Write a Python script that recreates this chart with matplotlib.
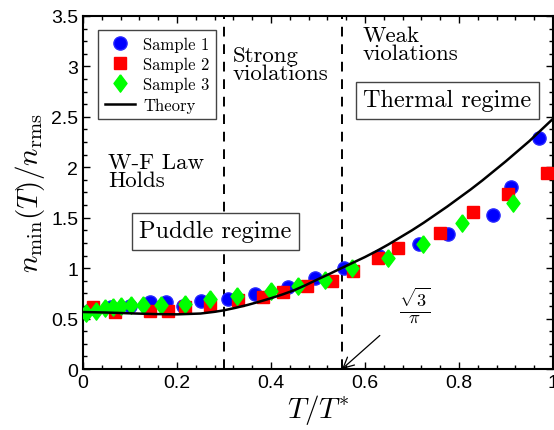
import numpy
import matplotlib
matplotlib.use("Agg")

# import aliases
import matplotlib.pyplot as plt
from matplotlib.ticker import MultipleLocator

plt.rcParams['mathtext.fontset'] = 'cm'
plt.rcParams['axes.unicode_minus'] = False

# data
s1_x = [0.02, 0.06, 0.10, 0.142, 0.177, 0.213, 0.251, 0.309, 0.366, 0.437,
        0.494, 0.555, 0.63, 0.715, 0.776, 0.873, 0.91, 0.97]
s1_y = [0.60, 0.61, 0.62, 0.66, 0.66, 0.62, 0.67, 0.69, 0.74, 0.81,
        0.90, 1.00, 1.12, 1.24, 1.34, 1.53, 1.80, 2.29]

s2_x = [0.021, 0.068, 0.142, 0.18, 0.217, 0.27, 0.33, 0.383, 0.426, 0.476,
        0.53, 0.575, 0.628, 0.67, 0.76, 0.83, 0.904, 0.987]
s2_y = [0.61, 0.57, 0.58, 0.58, 0.61, 0.63, 0.68, 0.71, 0.76, 0.82,
        0.87, 0.97, 1.10, 1.20, 1.35, 1.56, 1.74, 1.94]

s3_x = [0.007, 0.028, 0.047, 0.064, 0.081, 0.102, 0.128, 0.166, 0.217, 0.27,
        0.327, 0.40, 0.458, 0.515, 0.572, 0.65, 0.724, 0.806, 0.915]
s3_y = [0.56, 0.58, 0.60, 0.61, 0.62, 0.63, 0.63, 0.63, 0.64, 0.69,
        0.72, 0.77, 0.82, 0.88, 1.00, 1.10, 1.24, 1.45, 1.65]

theory_x = [0.0, 0.05, 0.1, 0.15, 0.2, 0.25, 0.28, 0.3, 0.325, 0.35, 0.375,
            0.4, 0.425, 0.45, 0.475, 0.5, 0.525, 0.55, 0.575, 0.6, 0.625,
            0.65, 0.675, 0.7, 0.725, 0.75, 0.775, 0.8, 0.825, 0.85, 0.875,
            0.9, 0.925, 0.95, 0.975, 1.0]
theory_y = [0.565, 0.56, 0.552, 0.545, 0.542, 0.55, 0.567, 0.582, 0.607, 0.635,
            0.667, 0.702, 0.74, 0.782, 0.834, 0.89, 0.944, 1.00, 1.055, 1.11,
            1.17, 1.235, 1.305, 1.375, 1.45, 1.53, 1.61, 1.695, 1.78, 1.87,
            1.965, 2.06, 2.16, 2.26, 2.37, 2.48]

puddle_edge = 0.3
thermal_edge = 0.5513

diamond = [(0, 1), (0.75, 0), (0, -1), (-0.75, 0), (0, 1)]

fig = plt.figure(figsize=(5.54, 4.31), dpi=100)
ax = fig.add_axes([0.1498, 0.1415, 0.8482, 0.8191])

ax.plot(s1_x, s1_y, linestyle='none', marker='o', ms=9.5, color=(0, 0, 1),
        mec=(0.15, 0.15, 1), label='Sample 1', zorder=3)
ax.plot(s2_x, s2_y, linestyle='none', marker='s', ms=8, color=(1, 0, 0),
        mec=(1, 0, 0), label='Sample 2', zorder=4)
ax.plot(s3_x, s3_y, linestyle='none', marker=diamond, ms=12.5, color=(0, 1, 0),
        mec=(0, 1, 0), label='Sample 3', zorder=5)
ax.plot(theory_x, theory_y, color='black', lw=1.8, label='Theory', zorder=6)

ax.axvline(puddle_edge, color='black', ls=(0, (5, 4)), lw=1.4)
ax.axvline(thermal_edge, color='black', ls=(0, (5, 4)), lw=1.4)

ax.set_xlim(0, 1)
ax.set_ylim(0, 3.5)
ax.xaxis.set_minor_locator(MultipleLocator(0.04))
ax.yaxis.set_minor_locator(MultipleLocator(0.125))
ax.set_xticks([0, 0.2, 0.4, 0.6, 0.8, 1.0])
ax.set_xticklabels(['0', '0.2', '0.4', '0.6', '0.8', '1'])
ax.set_yticks([0, 0.5, 1, 1.5, 2, 2.5, 3, 3.5])
ax.set_yticklabels(['0', '0.5', '1', '1.5', '2', '2.5', '3', '3.5'])
ax.tick_params(which='both', direction='in', top=True, right=True,
               labelsize=14, width=1.0)
ax.tick_params(which='major', length=5)
ax.tick_params(which='minor', length=3)
for lab in ax.get_xticklabels() + ax.get_yticklabels():
    lab.set_family('Liberation Sans')
for sp in ax.spines.values():
    sp.set_linewidth(1.5)

ax.set_xlabel(r'$T/T^{*}$', fontsize=21, labelpad=1)
ax.set_ylabel(r'$n_{\min}(T)/n_{\rm rms}$', fontsize=21, labelpad=3)

serif = dict(family='cmr10', color='black')
ax.text(0.318, 3.02, 'Strong\nviolations', fontsize=16.5, va='center',
        linespacing=0.9, **serif)
ax.text(0.595, 3.22, 'Weak\nviolations', fontsize=16.5, va='center',
        linespacing=0.9, **serif)
ax.text(0.053, 1.96, 'W-F Law\nHolds', fontsize=16.5, va='center',
        linespacing=0.9, **serif)
ax.text(0.775, 2.665, 'Thermal regime', fontsize=17.5, ha='center', va='center',
        bbox=dict(boxstyle='square,pad=0.3', fc='white', ec='#444444', lw=1.0),
        **serif)
ax.text(0.282, 1.365, 'Puddle regime', fontsize=17.5, ha='center', va='center',
        bbox=dict(boxstyle='square,pad=0.3', fc='white', ec='#444444', lw=1.0),
        **serif)

ax.annotate(r'$\frac{\sqrt{3}}{\pi}$', xy=(thermal_edge, 0.0), xytext=(0.706, 0.64),
            fontsize=19, ha='center', va='center',
            arrowprops=dict(arrowstyle='->', color='black', lw=0.9,
                            shrinkA=16, shrinkB=0))

leg = ax.legend(loc='upper left', bbox_to_anchor=(0.015, 0.985),
                prop={'family': 'cmr10', 'size': 12}, handlelength=1.8,
                labelspacing=0.3, borderpad=0.4, handletextpad=0.5,
                fancybox=False, edgecolor='#444444', framealpha=1)
leg.get_frame().set_linewidth(1.0)

fig.savefig('out.png', dpi=100)
